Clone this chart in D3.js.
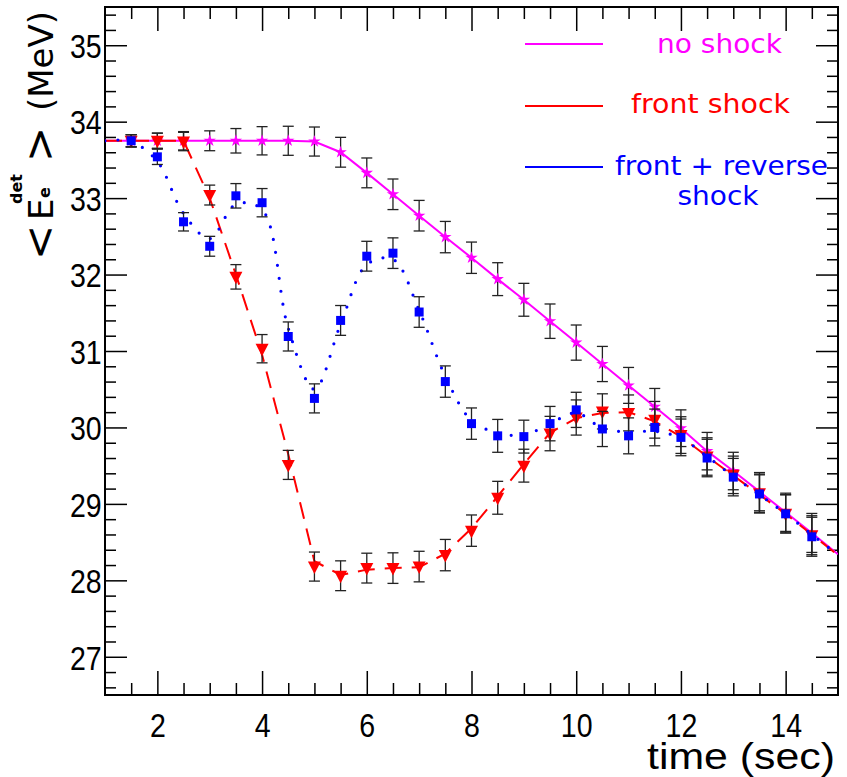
<!DOCTYPE html>
<html>
<head>
<meta charset="utf-8">
<script src="https://cdn.jsdelivr.net/npm/d3@7"></script>
<style>
  body { margin: 0; background: #fff; }
  svg { display: block; }
</style>
</head>
<body>
<svg id="chart" width="847" height="777"></svg>
<script>
// ---- data -------------------------------------------------------------
// time bins of the simulated points (sec)
const pointTimes = [1.5, 2, 2.5, 3, 3.5, 4, 4.5, 5, 5.5, 6, 6.5, 7, 7.5, 8, 8.5,
                    9, 9.5, 10, 10.5, 11, 11.5, 12, 12.5, 13, 13.5, 14, 14.5];
// abscissae of the model curves (sec)
const curveTimes = [1, 1.5, 2, 2.5, 3, 3.5, 4, 4.5, 5, 5.5, 6, 6.5, 7, 7.5, 8, 8.5,
                    9, 9.5, 10, 10.5, 11, 11.5, 12, 12.5, 13, 13.5, 14, 14.5, 15];

// mean detected positron energy <E_e^det> (MeV), points
const noShockPts = [33.75, 33.75, 33.75, 33.75, 33.75, 33.75, 33.75, 33.74, 33.60, 33.33,
                    33.05, 32.77, 32.49, 32.22, 31.94, 31.67, 31.39, 31.11, 30.83, 30.55,
                    30.27, 29.99, 29.69, 29.43, 29.16, 28.89, 28.62];
const frontShockPts = [33.75, 33.75, 33.74, 33.04, 31.97, 31.03, 29.51, 28.18, 28.06, 28.16,
                       28.16, 28.18, 28.33, 28.65, 29.08, 29.50, 29.92, 30.13, 30.21, 30.19,
                       30.10, 29.90, 29.62, 29.38, 29.14, 28.87, 28.59];
const reverseShockPts = [33.75, 33.54, 32.69, 32.37, 33.03, 32.94, 31.19, 30.38, 31.40, 32.24,
                         32.28, 31.51, 30.60, 30.05, 29.89, 29.88, 30.05, 30.23, 29.98, 29.89,
                         30.00, 29.87, 29.60, 29.35, 29.13, 28.87, 28.57];
// statistical error of each time bin (MeV)
const binErrors = [0.08, 0.10, 0.12, 0.13, 0.16, 0.185, 0.19, 0.19, 0.195, 0.195,
                   0.20, 0.20, 0.205, 0.205, 0.215, 0.215, 0.225, 0.23, 0.23, 0.235,
                   0.24, 0.24, 0.245, 0.245, 0.25, 0.25, 0.255];

// model curves (MeV)
const noShockCurve = [33.75, 33.75, 33.75, 33.75, 33.75, 33.75, 33.75, 33.75, 33.74, 33.60,
                      33.33, 33.05, 32.77, 32.49, 32.22, 31.94, 31.67, 31.39, 31.11, 30.83,
                      30.55, 30.27, 29.99, 29.69, 29.43, 29.16, 28.89, 28.62, 28.34];
const frontShockCurve = [33.75, 33.75, 33.75, 33.75, 33.0, 32.0, 30.95, 29.65, 28.25, 28.07,
                         28.14, 28.16, 28.17, 28.35, 28.68, 29.10, 29.52, 29.93, 30.12, 30.19,
                         30.20, 30.08, 29.88, 29.62, 29.37, 29.12, 28.87, 28.60, 28.33];
const reverseShockCurve = [33.75, 33.74, 33.48, 32.80, 32.47, 32.92, 32.85, 31.30, 30.50, 31.35,
                           32.13, 32.20, 31.53, 30.67, 30.09, 29.93, 29.90, 30.05, 30.19, 29.99,
                           29.94, 29.95, 29.86, 29.62, 29.36, 29.12, 28.87, 28.60, 28.33];

// axis ticks
const xMajorTicks = [2, 4, 6, 8, 10, 12, 14];
const xMinorTicks = [1.5, 2.5, 3, 3.5, 4.5, 5, 5.5, 6.5, 7, 7.5, 8.5, 9, 9.5, 10.5, 11, 11.5, 12.5, 13, 13.5, 14.5];
const yMajorTicks = [27, 28, 29, 30, 31, 32, 33, 34, 35];
const yMinorTicks = [26.6, 26.8, 27.2, 27.4, 27.6, 27.8, 28.2, 28.4, 28.6, 28.8, 29.2, 29.4, 29.6, 29.8,
                     30.2, 30.4, 30.6, 30.8, 31.2, 31.4, 31.6, 31.8, 32.2, 32.4, 32.6, 32.8,
                     33.2, 33.4, 33.6, 33.8, 34.2, 34.4, 34.6, 34.8, 35.2, 35.4];

const legendLabels = [["no shock"], ["front shock"], ["front + reverse", "shock"]];

// ---- layout -----------------------------------------------------------
const frame = { left: 105, right: 838, top: 7, bottom: 695 };
const svg = d3.select("#chart");

const x = d3.scaleLinear().domain([1, 15]).range([frame.left, frame.right]);
const y = d3.scaleLinear().domain([26.5, 35.5]).range([frame.bottom, frame.top]);

svg.append("defs").append("clipPath").attr("id", "frameClip")
  .append("rect")
  .attr("x", frame.left).attr("y", frame.top)
  .attr("width", frame.right - frame.left).attr("height", frame.bottom - frame.top);

// ---- axes (ticks inside, mirrored on top/right) -------------------------
const labelFont = "'Liberation Sans', Arial, Helvetica, sans-serif";
const squeeze = "scale(0.84,1)";

function styleAxis(g) {
  g.select(".domain").remove();
  g.selectAll(".tick line").attr("stroke", "#000").attr("stroke-width", 1.5);
}

svg.append("g").attr("transform", `translate(0,${frame.bottom})`)
  .call(d3.axisBottom(x).tickValues(xMajorTicks).tickSize(-24).tickSizeOuter(0).tickPadding(18).tickFormat(d3.format("d")))
  .call(styleAxis)
  .call(g => g.selectAll("text")
    .attr("font-family", labelFont).attr("font-size", 34).attr("fill", "#000")
    .attr("transform", squeeze));
svg.append("g").attr("transform", `translate(0,${frame.bottom})`)
  .call(d3.axisBottom(x).tickValues(xMinorTicks).tickSize(-12).tickSizeOuter(0).tickFormat(""))
  .call(styleAxis);
svg.append("g").attr("transform", `translate(0,${frame.top})`)
  .call(d3.axisTop(x).tickValues(xMajorTicks).tickSize(-24).tickSizeOuter(0).tickFormat(""))
  .call(styleAxis);
svg.append("g").attr("transform", `translate(0,${frame.top})`)
  .call(d3.axisTop(x).tickValues(xMinorTicks).tickSize(-12).tickSizeOuter(0).tickFormat(""))
  .call(styleAxis);

svg.append("g").attr("transform", `translate(${frame.left},0)`)
  .call(d3.axisLeft(y).tickValues(yMajorTicks).tickSize(-22).tickSizeOuter(0).tickPadding(4).tickFormat(d3.format("d")))
  .call(styleAxis)
  .call(g => g.selectAll("text")
    .attr("font-family", labelFont).attr("font-size", 34).attr("fill", "#000")
    .attr("dy", "0.36em")
    .attr("transform", squeeze));
svg.append("g").attr("transform", `translate(${frame.left},0)`)
  .call(d3.axisLeft(y).tickValues(yMinorTicks).tickSize(-11).tickSizeOuter(0).tickFormat(""))
  .call(styleAxis);
svg.append("g").attr("transform", `translate(${frame.right},0)`)
  .call(d3.axisRight(y).tickValues(yMajorTicks).tickSize(-22).tickSizeOuter(0).tickFormat(""))
  .call(styleAxis);
svg.append("g").attr("transform", `translate(${frame.right},0)`)
  .call(d3.axisRight(y).tickValues(yMinorTicks).tickSize(-11).tickSizeOuter(0).tickFormat(""))
  .call(styleAxis);

// frame
svg.append("rect")
  .attr("x", frame.left).attr("y", frame.top)
  .attr("width", frame.right - frame.left).attr("height", frame.bottom - frame.top)
  .attr("fill", "none").attr("stroke", "#000").attr("stroke-width", 2);

// axis titles
svg.append("text")
  .attr("x", 835).attr("y", 769)
  .attr("text-anchor", "end")
  .attr("font-family", labelFont).attr("font-size", 37)
  .attr("textLength", 188).attr("lengthAdjust", "spacingAndGlyphs")
  .text("time (sec)");

const titleFont = "'DejaVu Sans', Verdana, sans-serif";
const yTitle = svg.append("g").attr("transform", "translate(53,257) rotate(-90)")
  .attr("font-family", titleFont).attr("fill", "#000");
yTitle.append("text").attr("x", -3).attr("y", 1).attr("font-size", 42).text("<");
yTitle.append("text").attr("x", 37).attr("y", 0).attr("font-size", 34).text("E");
yTitle.append("text").attr("x", 59).attr("y", -3).attr("font-size", 16).attr("font-weight", "bold").text("e");
yTitle.append("text").attr("x", 53).attr("y", -31).attr("font-size", 16).attr("font-weight", "bold").text("det");
yTitle.append("text").attr("x", 95).attr("y", 1).attr("font-size", 42).text(">");
yTitle.append("text").attr("x", 146).attr("y", 0).attr("font-size", 34).text("(MeV)");

// ---- series -----------------------------------------------------------
const series = [
  { pts: noShockPts, curve: noShockCurve, color: "#ff00ff", marker: "star",
    interp: d3.curveLinear, dash: null, width: 2 },
  { pts: frontShockPts, curve: frontShockCurve, color: "#ff0000", marker: "tri",
    interp: d3.curveLinear, dash: "17 10", width: 2 },
  { pts: reverseShockPts, curve: reverseShockCurve, color: "#0000ff", marker: "square",
    interp: d3.curveCatmullRom.alpha(0.5), dash: "0 13", width: 3.2 }
];

const plot = svg.append("g").attr("clip-path", "url(#frameClip)");

const starPath = d3.symbol().type(d3.symbolStar).size(48)();
const squarePath = d3.symbol().type(d3.symbolSquare).size(81)();
const triPath = "M-6.5,-5L6.5,-5L0,7.5Z";

series.forEach(s => {
  const line = d3.line()
    .x((d, i) => x(curveTimes[i]))
    .y(d => y(d))
    .curve(s.interp);
  plot.append("path")
    .datum(s.curve)
    .attr("d", line)
    .attr("fill", "none")
    .attr("stroke", s.color)
    .attr("stroke-width", s.width)
    .attr("stroke-linecap", s.dash === "0 13" ? "round" : "butt")
    .attr("stroke-dasharray", s.dash);

  const pts = pointTimes.map((t, i) => ({ t, v: s.pts[i], e: binErrors[i] }));

  const err = plot.append("g").attr("stroke", "#222").attr("stroke-width", 1.3);
  err.selectAll("line.bar").data(pts).join("line").attr("class", "bar")
    .attr("x1", d => x(d.t)).attr("x2", d => x(d.t))
    .attr("y1", d => y(d.v - d.e)).attr("y2", d => y(d.v + d.e));
  err.selectAll("line.capLo").data(pts).join("line").attr("class", "capLo")
    .attr("x1", d => x(d.t) - 5.5).attr("x2", d => x(d.t) + 5.5)
    .attr("y1", d => y(d.v - d.e)).attr("y2", d => y(d.v - d.e));
  err.selectAll("line.capHi").data(pts).join("line").attr("class", "capHi")
    .attr("x1", d => x(d.t) - 5.5).attr("x2", d => x(d.t) + 5.5)
    .attr("y1", d => y(d.v + d.e)).attr("y2", d => y(d.v + d.e));

  const shape = s.marker === "star" ? starPath : s.marker === "square" ? squarePath : triPath;
  plot.append("g").selectAll("path").data(pts).join("path")
    .attr("d", shape)
    .attr("transform", d => `translate(${x(d.t)},${y(d.v)})`)
    .attr("fill", s.color);
});

// ---- legend -----------------------------------------------------------
const legendFont = "'DejaVu Sans', Verdana, sans-serif";
const legendRows = [
  { color: "#ff00ff", lineY: 44, texts: [{ cx: 719.5, y: 53, len: 125 }] },
  { color: "#ff0000", lineY: 106, texts: [{ cx: 710.5, y: 113, len: 159 }] },
  { color: "#0000ff", lineY: 167, texts: [{ cx: 721.5, y: 175, len: 213 }, { cx: 718, y: 205, len: 81 }] }
];
const legend = svg.append("g");
legendRows.forEach((row, r) => {
  legend.append("line")
    .attr("x1", 525).attr("x2", 603)
    .attr("y1", row.lineY).attr("y2", row.lineY)
    .attr("stroke", row.color).attr("stroke-width", 1.8);
  row.texts.forEach((t, k) => {
    legend.append("text")
      .attr("x", t.cx).attr("y", t.y)
      .attr("text-anchor", "middle")
      .attr("font-family", legendFont).attr("font-size", 27)
      .attr("fill", row.color)
      .attr("textLength", t.len).attr("lengthAdjust", "spacingAndGlyphs")
      .text(legendLabels[r][k]);
  });
});
</script>
</body>
</html>
